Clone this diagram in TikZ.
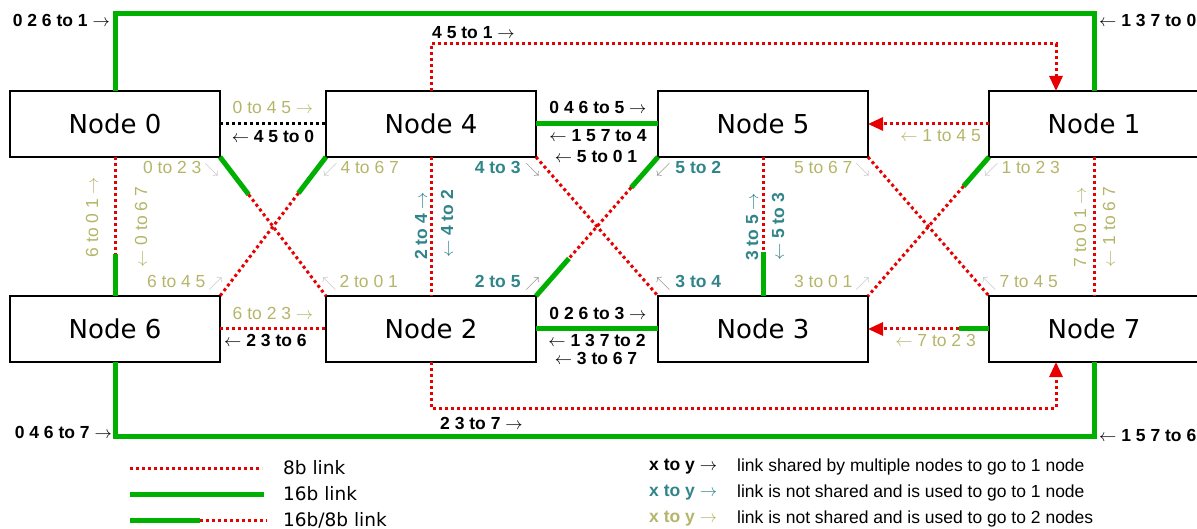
\documentclass[tikz,border=0pt]{standalone}
\usepackage{fontspec}
\setmainfont{Liberation Sans}
\newfontfamily\dejavu{DejaVu Sans}
\usetikzlibrary{arrows.meta,positioning,calc}
\definecolor{linkgreen}{RGB}{0,176,0}
\definecolor{linkred}{RGB}{230,0,0}
\definecolor{twonode}{RGB}{181,181,106}
\definecolor{onenode}{RGB}{49,133,138}
\definecolor{arrlight}{RGB}{190,190,190}
\definecolor{arrdark}{RGB}{128,128,128}
\newcommand\rarr{{\mdseries$\rightarrow$}}
\newcommand\larr{{\mdseries$\leftarrow$}}
\newcommand\diag[2][arrlight]{{\fontsize{14}{16}\selectfont\textcolor{#1}{$#2$}}}

\begin{document}
\begin{tikzpicture}[
  x=1pt, y=-1pt,
  box/.style={rectangle, draw, line width=2.5pt, minimum width=210pt, minimum height=66pt,
    inner sep=0pt, outer sep=0pt, font=\dejavu\fontsize{26}{30}\selectfont},
  l8/.style={linkred, line width=3pt, dash pattern=on 3pt off 3pt},
  l16/.style={linkgreen, line width=5pt},
  arr/.style={-{Triangle[length=15pt,width=13pt]}},
  lshared/.style={font=\fontsize{17.5}{20}\selectfont\bfseries, inner sep=0pt},
  lone/.style={lshared, text=onenode},
  ltwo/.style={font=\fontsize{17.5}{20}\selectfont, text=twonode, inner sep=0pt},
  legtxt/.style={font=\dejavu\fontsize{18.5}{21}\selectfont, inner sep=0pt, anchor=west},
  legdesc/.style={font=\fontsize{17.5}{20}\selectfont, inner sep=0pt, anchor=west}
]
  \useasboundingbox (0,0) rectangle (1197,529);

  % nodes
  \node[box] (n0) at (115,124) {Node 0};
  \node[box, right=106pt of n0] (n4) {Node 4};
  \node[box, right=122pt of n4] (n5) {Node 5};
  \node[box, right=121pt of n5] (n1) {Node 1};
  \node[box, below=139pt of n0] (n6) {Node 6};
  \node[box, below=139pt of n4] (n2) {Node 2};
  \node[box, below=139pt of n5] (n3) {Node 3};
  \node[box, below=139pt of n1] (n7) {Node 7};

  % outer loops
  \draw[l16] (n0.north) -- ++(0,-77) -| (n1.north);
  \draw[l8,arr] (n4.north) -- ++(0,-47) -| ($(n1.north)+(-38,0)$);
  \draw[l16] (n6.south) -- ++(0,74) -| (n7.south);
  \draw[l8,arr] (n2.south) -- ++(0,46) -| ($(n7.south)+(-38,0)$);

  % horizontal links
  \draw[black, line width=3pt, dash pattern=on 3pt off 3pt] (n0.east) -- (n4.west);
  \draw[l16] (n4.east) -- (n5.west);
  \draw[l8,arr] (n1.west) -- (n5.east);
  \draw[l8] (n6.east) -- (n2.west);
  \draw[l16] (n2.east) -- (n3.west);
  \coordinate (m73) at ($(n7.west)!0.25!(n3.east)$);
  \draw[l16] (n7.west) -- (m73);
  \draw[l8,arr] (m73) -- (n3.east);

  % vertical links
  \coordinate (m06) at ($(n0.south)!0.7!(n6.north)$);
  \draw[l8] (n0.south) -- (m06);
  \draw[l16] (m06) -- (n6.north);
  \draw[l8] (n4.south) -- (n2.north);
  \coordinate (m53) at ($(n5.south)!0.68!(n3.north)$);
  \draw[l8] (n5.south) -- (m53);
  \draw[l16] (m53) -- (n3.north);
  \draw[l8] (n1.south) -- (n7.north);

  % diagonal links
  \coordinate (m02) at ($(n0.south east)!0.27!(n2.north west)$);
  \draw[l16] (n0.south east) -- (m02);
  \draw[l8] (m02) -- (n2.north west);
  \coordinate (m46) at ($(n4.south west)!0.26!(n6.north east)$);
  \draw[l16] (n4.south west) -- (m46);
  \draw[l8] (m46) -- (n6.north east);
  \draw[l8] (n4.south east) -- (n3.north west);
  \coordinate (m52a) at ($(n5.south west)!0.22!(n2.north east)$);
  \coordinate (m52b) at ($(n5.south west)!0.73!(n2.north east)$);
  \draw[l16] (n5.south west) -- (m52a);
  \draw[l8] (m52a) -- (m52b);
  \draw[l16] (m52b) -- (n2.north east);
  \draw[l8] (n5.south east) -- (n7.north west);
  \coordinate (m13) at ($(n1.south west)!0.21!(n3.north east)$);
  \draw[l16] (n1.south west) -- (m13);
  \draw[l8] (m13) -- (n3.north east);

  % labels of the outer loops
  \node[lshared, anchor=east] (t01) at (110,20) {0 2 6 to 1 \rarr};
  \node[lshared, anchor=west] (t10) at (1099,20) {\larr\ 1 3 7 to 0};
  \node[lshared, anchor=west] (t451) at (432,33) {4 5 to 1 \rarr};
  \node[lshared, anchor=east] (t67) at (112,432) {0 4 6 to 7 \rarr};
  \node[lshared, anchor=west] (t237) at (440,423) {2 3 to 7 \rarr};
  \node[lshared, anchor=west] (t76) at (1099,435) {\larr\ 1 5 7 to 6};

  % labels of the horizontal links
  \node[ltwo] (t045) at (273,107) {0 to 4 5 \rarr};
  \node[lshared] (t450) at (273,136) {\larr\ 4 5 to 0};
  \node[lshared] (t465) at (598,107) {0 4 6 to 5 \rarr};
  \node[lshared] (t574) at (598,136) {\larr\ 1 5 7 to 4};
  \node[lshared] (t501) at (596,156) {\larr\ 5 to 0 1};
  \node[ltwo, anchor=east] (t145) at (981,136) {\larr\ 1 to 4 5};
  \node[ltwo] (t623) at (273,313) {6 to 2 3 \rarr};
  \node[lshared, anchor=west] (t236) at (224,340) {\larr\ 2 3 to 6};
  \node[lshared] (t263) at (598,313) {0 2 6 to 3 \rarr};
  \node[lshared] (t372) at (597,340) {\larr\ 1 3 7 to 2};
  \node[lshared] (t367) at (596,358) {\larr\ 3 to 6 7};
  \node[ltwo, anchor=east] (t723) at (976,340) {\larr\ 7 to 2 3};

  % labels of the vertical links
  \node[ltwo, rotate=90] (t601) at (92,217) {6 to 0 1 \rarr};
  \node[ltwo, rotate=90] (t067) at (141,227) {\larr\ 0 to 6 7};
  \node[lone, rotate=90] (t24) at (421,226) {2 to 4 \rarr};
  \node[lone, rotate=90] (t42) at (447,224) {\larr\ 4 to 2};
  \node[lone, rotate=90] (t35) at (752,227) {3 to 5 \rarr};
  \node[lone, rotate=90] (t53) at (778,227) {\larr\ 5 to 3};
  \node[ltwo, rotate=90] (t701) at (1080,227) {7 to 0 1 \rarr};
  \node[ltwo, rotate=90] (t167) at (1109,227) {\larr\ 1 to 6 7};

  % labels of the diagonal links
  \node[ltwo, anchor=east] (t023) at (219,169) {0 to 2 3\,\diag{\searrow}};
  \node[ltwo, anchor=west] (t467) at (323,169) {\diag{\swarrow}\,4 to 6 7};
  \node[ltwo, anchor=east] (t645) at (223,283) {6 to 4 5\,\diag{\nearrow}};
  \node[ltwo, anchor=west] (t201) at (322,283) {\diag{\nwarrow}\,2 to 0 1};
  \node[lone, anchor=east] (t43) at (540,169) {4 to 3 \diag[arrdark]{\searrow}};
  \node[lone, anchor=west] (t52) at (656,169) {\diag[arrdark]{\swarrow} 5 to 2};
  \node[lone, anchor=east] (t25) at (540,283) {2 to 5 \diag[arrdark]{\nearrow}};
  \node[lone, anchor=west] (t34) at (656,283) {\diag[arrdark]{\nwarrow} 3 to 4};
  \node[ltwo, anchor=east] (t567) at (870,169) {5 to 6 7\,\diag{\searrow}};
  \node[ltwo, anchor=west] (t123) at (984,169) {\diag{\swarrow}\,1 to 2 3};
  \node[ltwo, anchor=east] (t301) at (870,283) {3 to 0 1\,\diag{\nearrow}};
  \node[ltwo, anchor=west] (t745) at (982,283) {\diag{\nwarrow}\,7 to 4 5};

  % legend
  \coordinate (k8a) at (130,468);   \coordinate (k8b) at (262,468);
  \coordinate (k16a) at (130,494);  \coordinate (k16b) at (264,494);
  \coordinate (kmxa) at (130,520);  \coordinate (kmxm) at (200,520);
  \coordinate (kmxb) at (267,520);
  \draw[l8] (k8a) -- (k8b);
  \draw[l16] (k16a) -- (k16b);
  \draw[l16] (kmxa) -- (kmxm);
  \draw[l8] (kmxm) -- (kmxb);
  \node[legtxt] (k8) at (283,468) {8b link};
  \node[legtxt] (k16) at (283,494) {16b link};
  \node[legtxt] (kmx) at (283,520) {16b/8b link};

  \node[lshared, anchor=west] (kshared) at (649,467) {x to y \rarr};
  \node[lone, anchor=west] (kone) at (649,493) {x to y \rarr};
  \node[ltwo, anchor=west, font=\fontsize{17.5}{20}\selectfont\bfseries] (ktwo) at (649,519) {x to y \rarr};
  \node[legdesc] (dshared) at (737,467) {link shared by multiple nodes to go to 1 node};
  \node[legdesc] (done) at (737,493) {link is not shared and is used to go to 1 node};
  \node[legdesc] (dtwo) at (737,519) {link is not shared and is used to go to 2 nodes};
\end{tikzpicture}
\end{document}
